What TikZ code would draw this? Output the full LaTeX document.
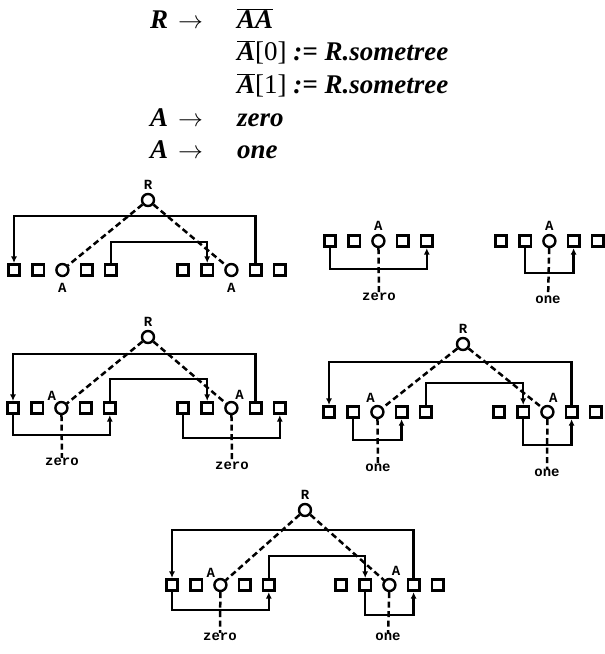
\documentclass[tikz,border=0pt]{standalone}
\usepackage{fontspec}
\setmainfont{Liberation Serif}
\newfontfamily\lblfont{Liberation Mono}
\usetikzlibrary{arrows.meta}
\usetikzlibrary{positioning}

\tikzset{
  leaf/.style={draw, line width=2.6pt, minimum size=11.5pt, inner sep=0pt},
  anode/.style={draw, circle, line width=2.4pt, minimum size=12pt, inner sep=0pt},
  link/.style={line width=2.5pt},
  dlink/.style={line width=2.5pt, dash pattern=on 6pt off 3.5pt},
  tip/.style={-{Latex[length=6.5pt,width=6pt]}},
  lbl/.style={font=\lblfont\bfseries\fontsize{14}{14}\selectfont, inner sep=0pt},
  gram/.style={font=\fontsize{27}{30}\selectfont\bfseries\itshape, inner sep=0pt, anchor=base west},
}

% one row of five leaves, the middle one is an A node
\newcommand{\leafrow}[4]{%
  \foreach \i in {1,2,4,5} {
    \node[leaf] (#1-\i) at ({#2+24.2*(\i-1)},#3) {};
  }
  \node[anode,label={#4}] (#1-3) at ({#2+48.4},#3) {};
}
\newcommand{\ovl}[1]{$\overline{\hbox{#1}}$}

\begin{document}
\begin{tikzpicture}[x=1pt,y=-1pt]
\useasboundingbox (0,0) rectangle (605,654);

% the grammar
\node[gram] (lhs1) at (150,28) {R};
\node[gram] (arr1) at (178,28) {$\rightarrow$};
\node[gram] (rhs1) at (237,28) {\ovl{AA}};
\node[gram] (rhs2) at (237,60) {\ovl{A}\textup{\mdseries[0]} := R.sometree};
\node[gram] (rhs3) at (237,93) {\ovl{A}\textup{\mdseries[1]} := R.sometree};
\node[gram] (lhs4) at (150,126) {A};
\node[gram] (arr4) at (178,126) {$\rightarrow$};
\node[gram] (rhs4) at (237,126) {zero};
\node[gram] (lhs5) at (150,158) {A};
\node[gram] (arr5) at (178,158) {$\rightarrow$};
\node[gram] (rhs5) at (237,158) {one};

% tree 1: R with two open A nodes
\node[anode,label={[lbl,label distance=3pt]above:R}] (r1) at (148,200) {};
\leafrow{g1l}{14}{270}{[lbl,label distance=6pt]below:A}
\leafrow{g1r}{183}{270}{[lbl,label distance=6pt]below:A}
\coordinate (t1hi) at (0,216);
\coordinate (t1lo) at (0,242);
\draw[link,tip] (g1r-4.north) -- (g1r-4.north |- t1hi) -| (g1l-1.north);
\draw[link,tip] (g1l-5.north) -- (g1l-5.north |- t1lo) -| (g1r-2.north);
\draw[dlink] (r1) -- (g1l-3);
\draw[dlink] (r1) -- (g1r-3);

% tree for A -> zero
\leafrow{s1}{330}{241}{[lbl,label distance=3pt]above:A}
\coordinate (s1lo) at (0,269);
\draw[link,tip] (s1-1.south) -- (s1-1.south |- s1lo) -| (s1-5.south);
\node[lbl] (z1) at (379,297) {zero};
\draw[dlink] (s1-3) -- (z1);

% tree for A -> one
\leafrow{s2}{501}{241}{[lbl,label distance=3pt]above:A}
\coordinate (s2lo) at (0,273);
\draw[link,tip] (s2-2.south) -- (s2-2.south |- s2lo) -| (s2-4.south);
\node[lbl] (o1) at (548,300) {one};
\draw[dlink] (s2-3) -- (o1);

% tree 3: zero zero
\node[anode,label={[lbl,label distance=3pt]above:R}] (r3) at (148,337) {};
\leafrow{g3l}{13}{408}{[lbl,label distance=2pt]125:A}
\leafrow{g3r}{183}{408}{[lbl,label distance=2pt]65:A}
\coordinate (t3hi) at (0,354);
\coordinate (t3lo) at (0,379);
\coordinate (t3bl) at (0,435);
\coordinate (t3br) at (0,438);
\draw[link,tip] (g3r-4.north) -- (g3r-4.north |- t3hi) -| (g3l-1.north);
\draw[link,tip] (g3l-5.north) -- (g3l-5.north |- t3lo) -| (g3r-2.north);
\draw[link,tip] (g3l-1.south) -- (g3l-1.south |- t3bl) -| (g3l-5.south);
\draw[link,tip] (g3r-1.south) -- (g3r-1.south |- t3br) -| (g3r-5.south);
\draw[dlink] (r3) -- (g3l-3);
\draw[dlink] (r3) -- (g3r-3);
\node[lbl] (z2) at (62,462) {zero};
\node[lbl] (z3) at (232,466) {zero};
\draw[dlink] (g3l-3) -- (z2);
\draw[dlink] (g3r-3) -- (z3);

% tree 4: one one
\node[anode,label={[lbl,label distance=3pt]above:R}] (r4) at (463,344) {};
\leafrow{g4l}{329}{412}{[lbl,label distance=2pt]105:A}
\leafrow{g4r}{499}{412}{[lbl,label distance=2pt]80:A}
\coordinate (t4hi) at (0,362);
\coordinate (t4lo) at (0,383);
\coordinate (t4bl) at (0,440);
\coordinate (t4br) at (0,445);
\draw[link,tip] (g4r-4.north) -- (g4r-4.north |- t4hi) -| (g4l-1.north);
\draw[link,tip] (g4l-5.north) -- (g4l-5.north |- t4lo) -| (g4r-2.north);
\draw[link,tip] (g4l-2.south) -- (g4l-2.south |- t4bl) -| (g4l-4.south);
\draw[link,tip] (g4r-2.south) -- (g4r-2.south |- t4br) -| (g4r-4.south);
\draw[dlink] (r4) -- (g4l-3);
\draw[dlink] (r4) -- (g4r-3);
\node[lbl] (o2) at (378,468) {one};
\node[lbl] (o3) at (547,473) {one};
\draw[dlink] (g4l-3) -- (o2);
\draw[dlink] (g4r-3) -- (o3);

% tree 5: zero one
\node[anode,label={[lbl,label distance=3pt]above:R}] (r5) at (305,510) {};
\leafrow{g5l}{172}{585}{[lbl,label distance=2pt]125:A}
\leafrow{g5r}{341}{585}{[lbl,label distance=2pt]75:A}
\coordinate (t5hi) at (0,530);
\coordinate (t5lo) at (0,556);
\coordinate (t5bl) at (0,610);
\coordinate (t5br) at (0,615);
\draw[link,tip] (g5r-4.north) -- (g5r-4.north |- t5hi) -| (g5l-1.north);
\draw[link,tip] (g5l-5.north) -- (g5l-5.north |- t5lo) -| (g5r-2.north);
\draw[link,tip] (g5l-1.south) -- (g5l-1.south |- t5bl) -| (g5l-5.south);
\draw[link,tip] (g5r-2.south) -- (g5r-2.south |- t5br) -| (g5r-4.south);
\draw[dlink] (r5) -- (g5l-3);
\draw[dlink] (r5) -- (g5r-3);
\node[lbl] (z4) at (220,637) {zero};
\node[lbl] (o4) at (388,637) {one};
\draw[dlink] (g5l-3) -- (z4);
\draw[dlink] (g5r-3) -- (o4);

\end{tikzpicture}
\end{document}
